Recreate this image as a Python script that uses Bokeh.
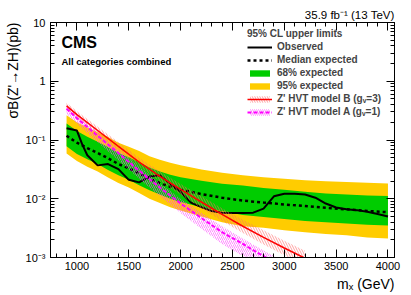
import math
from bokeh.plotting import figure
from bokeh.models import (FixedTicker, LogAxis, LinearAxis, Label, Legend,
                          LegendItem, Range1d, Title)
from bokeh.embed import file_html
from bokeh.resources import INLINE

# ---------------- data ----------------
mass_obs = [900, 1000, 1050, 1100, 1200, 1300, 1400, 1500, 1600, 1700, 1800,
            1900, 2000, 2100, 2200, 2300, 2400, 2500, 2600, 2700, 2800, 2900,
            3000, 3100, 3200, 3300, 3400, 3500, 3600, 3700, 3800, 3900, 4000]
observed = [0.158, 0.145, 0.085, 0.055, 0.037, 0.039, 0.032, 0.021, 0.019,
            0.024, 0.025, 0.018, 0.013, 0.0086, 0.0072, 0.0062, 0.0058,
            0.0057, 0.0057, 0.0058, 0.0068, 0.0110, 0.0122, 0.0122, 0.0118,
            0.0104, 0.0083, 0.0071, 0.0066, 0.0064, 0.0060, 0.0055, 0.0050]

mass_exp = [900, 1000, 1100, 1200, 1300, 1400, 1500, 1600, 1700, 1800, 1900,
            2000, 2200, 2400, 2600, 2800, 3000, 3200, 3400, 3600, 3800, 4000]
exp_median = [0.118, 0.090, 0.073, 0.060, 0.049, 0.039, 0.033, 0.027, 0.022,
              0.0185, 0.016, 0.0143, 0.0120, 0.0104, 0.0093, 0.0086, 0.0080,
              0.0075, 0.0070, 0.0066, 0.0062, 0.0059]
exp68_hi = [0.19, 0.142, 0.114, 0.093, 0.076, 0.060, 0.051, 0.042, 0.034,
            0.029, 0.0255, 0.0232, 0.0203, 0.0180, 0.0168, 0.0153, 0.0142,
            0.0132, 0.0123, 0.0118, 0.0114, 0.0111]
exp68_lo = [0.078, 0.058, 0.047, 0.039, 0.031, 0.025, 0.021, 0.017, 0.014,
            0.0118, 0.0100, 0.0088, 0.0072, 0.0061, 0.0053, 0.0049, 0.0045,
            0.0042, 0.0040, 0.0038, 0.0036, 0.0035]
exp95_hi = [0.265, 0.20, 0.163, 0.135, 0.112, 0.090, 0.077, 0.065, 0.053,
            0.046, 0.041, 0.037, 0.0315, 0.0278, 0.0252, 0.0232, 0.0218,
            0.0207, 0.0198, 0.0192, 0.0187, 0.0182]
exp95_lo = [0.059, 0.044, 0.035, 0.029, 0.023, 0.0185, 0.0155, 0.0125,
            0.0100, 0.0085, 0.0072, 0.0063, 0.0050, 0.0040, 0.0034, 0.0032,
            0.0029, 0.0027, 0.0025, 0.0024, 0.0022, 0.0021]

mass_th = [900, 1000, 1200, 1400, 1600, 1800, 2000, 2200, 2400, 2600, 2800,
           3000, 3200]
hvtB = [0.38, 0.27, 0.145, 0.078, 0.042, 0.024, 0.0145, 0.0088, 0.0054,
        0.0034, 0.0022, 0.00145, 0.00097]
hvtB_lo = [0.34, 0.24, 0.127, 0.067, 0.0355, 0.0198, 0.0117, 0.0069, 0.0042,
           0.0026, 0.00166, 0.00109, 0.00073]
hvtB_hi = [0.43, 0.31, 0.168, 0.092, 0.050, 0.029, 0.0179, 0.0111, 0.0069,
           0.0044, 0.0029, 0.00192, 0.00130]
hvtA = [0.34, 0.235, 0.118, 0.060, 0.030, 0.0155, 0.0083, 0.0047, 0.0027,
        0.0017, 0.00105, 0.00068, 0.00045]
hvtA_lo = [0.28, 0.19, 0.092, 0.045, 0.022, 0.0110, 0.0057, 0.0031, 0.0017,
           0.00105, 0.00064, 0.00041, 0.00027]
hvtA_hi = [0.38, 0.265, 0.134, 0.069, 0.035, 0.0184, 0.0100, 0.0058, 0.0034,
           0.0021, 0.00131, 0.00085, 0.00056]

x_major = [1000, 1500, 2000, 2500, 3000, 3500, 4000]
x_minor = [800, 900, 1100, 1200, 1300, 1400, 1600, 1700, 1800, 1900, 2100,
           2200, 2300, 2400, 2600, 2700, 2800, 2900, 3100, 3200, 3300, 3400,
           3600, 3700, 3800, 3900]
y_major = [0.001, 0.01, 0.1, 1, 10]
y_labels = ["10⁻³", "10⁻²", "10⁻¹", "1", "10"]
y_minor = [m * 10.0 ** e for e in range(-3, 1) for m in range(2, 10)]

FONT = "Liberation Sans"
X0, X1 = 745, 4063
Y0, Y1 = 1e-3, 10

p = figure(width=406, height=292, x_range=Range1d(X0, X1),
           y_range=Range1d(Y0, Y1), y_axis_type="log",
           output_backend="svg", toolbar_location=None,
           min_border_left=50, min_border_right=12, min_border_top=22,
           min_border_bottom=33)
p.xgrid.visible = False
p.ygrid.visible = False
p.outline_line_color = "black"
p.outline_line_width = 1
p.background_fill_color = "white"
p.border_fill_color = "white"

# bands
r_y = p.varea(x=mass_exp, y1=exp95_lo, y2=exp95_hi, fill_color="#ffcc00")
r_g = p.varea(x=mass_exp, y1=exp68_lo, y2=exp68_hi, fill_color="#00cc00")
r_med = p.line(mass_exp, exp_median, line_color="black", line_width=2.5,
               line_dash="3 3")
r_obs = p.line(mass_obs, observed, line_color="black", line_width=2)

# theory
r_ah = p.varea(x=mass_th, y1=hvtA_lo, y2=hvtA_hi, fill_alpha=0,
               hatch_pattern="/", hatch_color="#ff44ff", hatch_alpha=0.6,
               hatch_scale=4, hatch_weight=1)
r_bh = p.varea(x=mass_th, y1=hvtB_lo, y2=hvtB_hi, fill_alpha=0,
               hatch_pattern="\\", hatch_color="#ff6666", hatch_alpha=0.6,
               hatch_scale=5, hatch_weight=1)
r_al = p.line(mass_th, hvtA, line_color="#ff00ff", line_width=2,
              line_dash="4 2")
r_bl = p.line(mass_th, hvtB, line_color="#ff0000", line_width=1.5)


def style_axis(ax):
    ax.axis_line_color = "black"
    ax.major_tick_in = 8
    ax.major_tick_out = 0
    ax.minor_tick_in = 4
    ax.minor_tick_out = 0
    ax.major_tick_line_color = "black"
    ax.minor_tick_line_color = "black"
    ax.major_label_text_font = FONT
    ax.major_label_text_color = "black"
    ax.major_label_text_font_size = "11px"


p.xaxis.ticker = FixedTicker(ticks=x_major, minor_ticks=x_minor)
p.yaxis.ticker = FixedTicker(ticks=y_major, minor_ticks=y_minor)
p.yaxis.major_label_overrides = {v: s for v, s in zip(y_major, y_labels)}
style_axis(p.xaxis[0])
style_axis(p.yaxis[0])
p.xaxis.major_label_standoff = 4
p.yaxis.major_label_standoff = 5

top = LinearAxis(ticker=FixedTicker(ticks=x_major, minor_ticks=x_minor),
                 major_label_overrides={v: "" for v in x_major})
style_axis(top)
top.major_label_standoff = 0
p.add_layout(top, "above")
right = LogAxis(ticker=FixedTicker(ticks=y_major, minor_ticks=y_minor),
                major_label_overrides={v: "" for v in y_major})
style_axis(right)
right.major_label_standoff = 0
p.add_layout(right, "right")

# titles outside the frame
p.add_layout(Title(text="35.9 fb⁻¹ (13 TeV)", align="right",
                   text_font=FONT, text_font_size="11.5px",
                   text_color="black", text_font_style="normal",
                   standoff=3), "above")
p.add_layout(Title(text="mₓ (GeV)", align="right", text_font=FONT,
                   text_font_size="14px", text_color="black",
                   text_font_style="normal", standoff=2), "below")
p.add_layout(Title(text="σB(Z'→ZH)(pb)", align="right", text_font=FONT,
                   text_font_size="14px", text_color="black",
                   text_font_style="normal", standoff=4), "left")


def px_x(px):
    return 1000 + (px - 76.5) / 0.1037


def px_y(py):
    return 10 ** (1 - (py - 21.7) / 59.2)


def lab(px, py, text, size, style="normal"):
    p.add_layout(Label(x=px_x(px), y=px_y(py), text=text, text_font=FONT,
                       text_font_size=size, text_font_style=style,
                       text_align="left", text_baseline="alphabetic",
                       text_color="black"))


lab(61, 42, "CMS", "16px", "bold")
lab(61, 61.5, "All categories combined", "9.5px", "bold")

legend = Legend(items=[
    LegendItem(label="Observed", renderers=[r_obs]),
    LegendItem(label="Median expected", renderers=[r_med]),
    LegendItem(label="68% expected", renderers=[r_g]),
    LegendItem(label="95% expected", renderers=[r_y]),
    LegendItem(label="Z' HVT model B (gᵥ=3)", renderers=[r_bh, r_bl]),
    LegendItem(label="Z' HVT model A (gᵥ=1)", renderers=[r_ah, r_al]),
], location=(197, 140), title="95% CL upper limits")
legend.title_text_font = FONT
legend.title_text_font_size = "10px"
legend.title_text_font_style = "bold"
legend.title_standoff = 2
legend.label_text_font = FONT
legend.label_text_font_size = "10px"
legend.label_text_font_style = "bold"
legend.glyph_width = 25
legend.glyph_height = 8
legend.label_height = 8
legend.spacing = 2
legend.padding = 0
legend.margin = 0
legend.label_standoff = 5
legend.border_line_alpha = 0
legend.background_fill_alpha = 0
p.add_layout(legend)

open("out.html", "w").write(file_html(p, INLINE))
